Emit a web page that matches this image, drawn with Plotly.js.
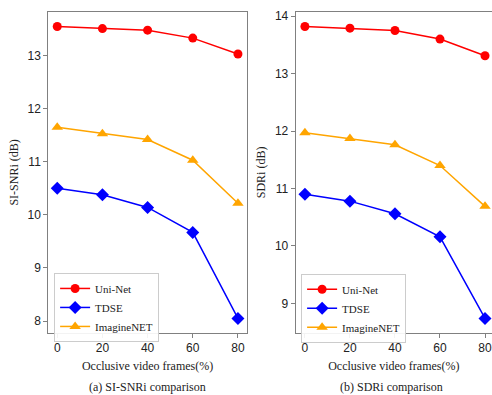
<!DOCTYPE html>
<html>
<head>
<meta charset="utf-8">
<script src="https://cdn.plot.ly/plotly-3.0.1.min.js"></script>
<style>html,body{margin:0;padding:0;background:#fff}#chart{width:492px;height:395px}</style>
</head>
<body>
<div id="chart"></div>
<script>
const frames = [0, 20, 40, 60, 80];
const siUniNet = [13.55, 13.51, 13.48, 13.33, 13.03];
const siTDSE = [10.50, 10.38, 10.14, 9.67, 8.05];
const siImagine = [11.65, 11.53, 11.42, 11.03, 10.22];
const sdUniNet = [13.82, 13.79, 13.75, 13.60, 13.31];
const sdTDSE = [10.90, 10.78, 10.56, 10.16, 8.74];
const sdImagine = [11.97, 11.87, 11.76, 11.40, 10.69];
const seriesNames = ['Uni-Net', 'TDSE', 'ImagineNET'];
const xTitle = 'Occlusive video frames(%)';
const captions = ['(a) SI-SNRi comparison', '(b) SDRi comparison'];
const yTitles = ['SI-SNRi (dB)', 'SDRi (dB)'];

const colors = ['#ff0000', '#0000ff', '#ffa500'];
const symbols = ['circle', 'diamond', 'triangle-up'];
const sizes = [9, 10, 10];

function mk(y, i, xa, ya, legend) {
  return {
    x: frames, y: y, name: seriesNames[i], type: 'scatter', mode: 'lines+markers',
    xaxis: xa, yaxis: ya, legend: legend,
    line: {color: colors[i], width: 1.5},
    marker: {color: colors[i], symbol: symbols[i], size: sizes[i]}
  };
}
const data = [
  mk(siUniNet, 0, 'x', 'y', 'legend'),
  mk(siTDSE, 1, 'x', 'y', 'legend'),
  mk(siImagine, 2, 'x', 'y', 'legend'),
  mk(sdUniNet, 0, 'x2', 'y2', 'legend2'),
  mk(sdTDSE, 1, 'x2', 'y2', 'legend2'),
  mk(sdImagine, 2, 'x2', 'y2', 'legend2')
];

const tickFont = {family: 'Liberation Sans', size: 12, color: '#222'};
const serif = {family: 'Liberation Serif', size: 12, color: '#222'};
const legFont = {family: 'Liberation Serif', size: 11, color: '#222'};
const axBase = {
  showgrid: false, zeroline: false, showline: true, linecolor: '#808080', linewidth: 1,
  ticks: 'outside', ticklen: 4, tickcolor: '#808080', tickfont: tickFont, automargin: false,
  ticklabeloverflow: 'allow'
};
const legBase = {
  bgcolor: 'rgba(255,255,255,0.9)', bordercolor: '#cccccc', borderwidth: 1,
  font: legFont, yanchor: 'top', xanchor: 'left', tracegroupgap: 0, itemwidth: 30
};

const layout = {
  width: 492, height: 395,
  margin: {l: 0, r: 0, t: 0, b: 0},
  paper_bgcolor: '#fff', plot_bgcolor: '#fff',
  font: serif,
  showlegend: true,
  xaxis: Object.assign({}, axBase, {domain: [0.098, 0.502], range: [-4, 84], tickvals: frames, mirror: true, anchor: 'y',
    title: {text: xTitle, font: serif, standoff: 7}}),
  yaxis: Object.assign({}, axBase, {domain: [0.157, 0.970], range: [7.775, 13.825], dtick: 1, mirror: true, anchor: 'x',
    title: {text: yTitles[0], font: serif, standoff: 6}}),
  xaxis2: Object.assign({}, axBase, {domain: [0.601, 1], range: [-4.1, 83.1], tickvals: frames, mirror: true, anchor: 'y2',
    title: {text: xTitle, font: serif, standoff: 7}}),
  yaxis2: Object.assign({}, axBase, {domain: [0.157, 0.970], range: [8.486, 14.074], dtick: 1, mirror: false, anchor: 'x2',
    title: {text: yTitles[1], font: serif, standoff: 6}}),
  legend: Object.assign({}, legBase, {x: 0.11, y: 0.309}),
  legend2: Object.assign({}, legBase, {x: 0.612, y: 0.307}),
  annotations: [
    {text: captions[0], xref: 'paper', yref: 'paper', x: 0.30, y: 1 - 387/395, showarrow: false, font: serif, xanchor: 'center', yanchor: 'middle'},
    {text: captions[1], xref: 'paper', yref: 'paper', x: 0.795, y: 1 - 387/395, showarrow: false, font: serif, xanchor: 'center', yanchor: 'middle'}
  ]
};
Plotly.newPlot('chart', data, layout, {displayModeBar: false, staticPlot: true});
</script>
</body>
</html>
